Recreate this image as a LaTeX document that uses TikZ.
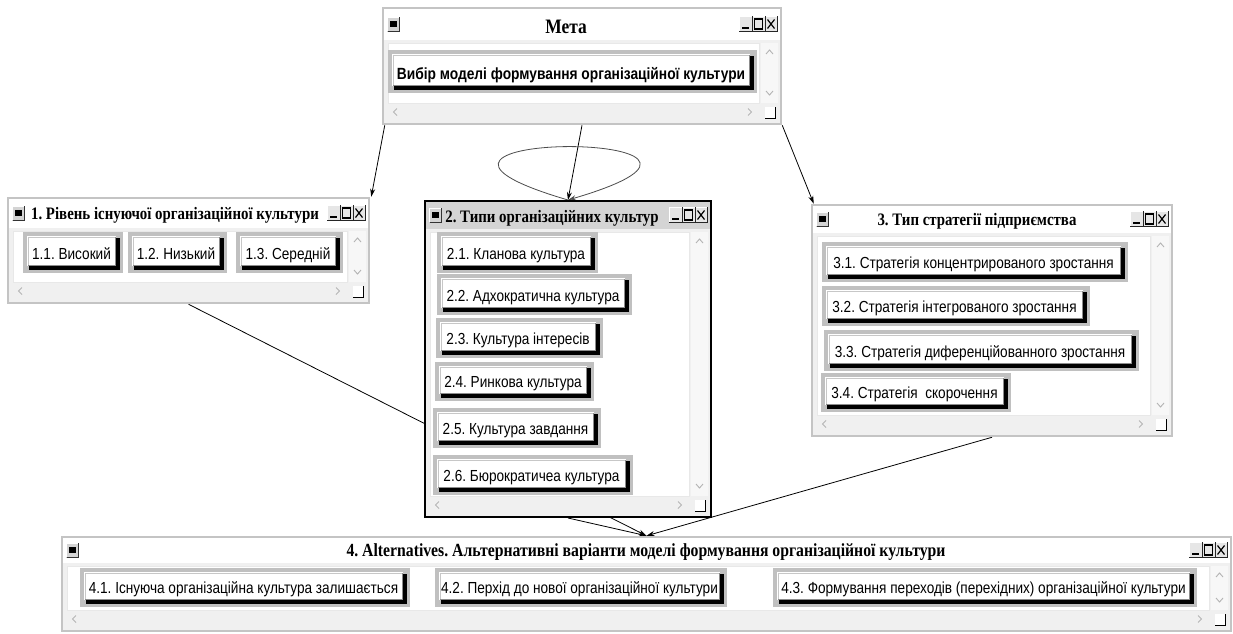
\documentclass[tikz,border=0pt]{standalone}
\usepackage{fontspec}
\setmainfont{Liberation Serif}[FakeStretch=0.85]
\newfontfamily\arialf{Liberation Sans}[FakeStretch=0.85]
\usetikzlibrary{arrows.meta}
\definecolor{wingray}{HTML}{C4C4C4}
\definecolor{bodygray}{HTML}{F0F0F0}
\definecolor{btngray}{HTML}{C0C0C0}
\definecolor{chev}{HTML}{B4B4B4}
\definecolor{activebar}{HTML}{D4D4D4}
\definecolor{ctlgray}{HTML}{E6E6E6}
\definecolor{framegray}{HTML}{E8E8E8}
\pgfdeclarelayer{paper}
\pgfdeclarelayer{bg}
\pgfsetlayers{paper,bg,main}
\tikzset{
  winbox/.style={rectangle, inner sep=0pt, draw=wingray, line width=2.5pt, fill=bodygray},
  activewin/.style={draw=black, line width=2pt},
  btntext/.style={font=\arialf\fontsize{16}{16}\selectfont, inner sep=0pt, anchor=base},
  wintitle/.style={font=\bfseries\fontsize{17.5}{17.5}\selectfont, inner sep=0pt, anchor=base},
  conn/.style={line width=0.8pt, -{Stealth[length=8pt,width=5pt]}},
  chevron/.style={draw=chev, line width=0.9pt},
}
% #1 style, #2 name, #3 x1, #4 y1, #5 x2, #6 y2, #7 title fill, #8 title height
\newcommand{\mywin}[8]{%
  \node[winbox,#1,minimum width={#5-#3},minimum height={#6-#4}] (#2) at ({(#3+#5)/2},{(#4+#6)/2}) {};
  \fill[#7] (#3+1.3,#4+1.3) rectangle (#5-1.3,#4+#8);
  \fill[white] (#3+5,#4+#8+3) rectangle (#5-22,#6-21);
  \draw[framegray, line width=0.8pt] (#3+5,#4+#8+3) rectangle (#5-22,#6-21);
  \fill[white!97!black] (#5-20,#4+#8+3) rectangle (#5-3,#6-21);
  \draw[chevron] (#5-15,#4+#8+14) -- (#5-11.5,#4+#8+10) -- (#5-8,#4+#8+14);
  \draw[chevron] (#5-15,#6-33) -- (#5-11.5,#6-29) -- (#5-8,#6-33);
  \draw[chevron] (#3+14,#6-15.5) -- (#3+10.5,#6-12) -- (#3+14,#6-8.5);
  \draw[chevron] (#5-33,#6-15.5) -- (#5-29.5,#6-12) -- (#5-33,#6-8.5);
  % resize grip
  \fill[white] (#5-16,#6-17) rectangle (#5-5,#6-5);
  \draw[black, line width=1.3pt] (#5-16,#6-5.6) -- (#5-5.6,#6-5.6) -- (#5-5.6,#6-17);
  % left icon
  \fill[activebar] (#3+4,{#4+#8/2-7.5}) rectangle (#3+17,{#4+#8/2+7.5});
  \draw[white, line width=0.8pt] (#3+4.4,{#4+#8/2+7.1}) -- (#3+4.4,{#4+#8/2-7.1}) -- (#3+16.6,{#4+#8/2-7.1});
  \draw[black!80, line width=1pt] (#3+4.5,{#4+#8/2+7}) -- (#3+16.5,{#4+#8/2+7}) -- (#3+16.5,{#4+#8/2-7.5});
  \fill[black] (#3+7.3,{#4+#8/2-3.5}) rectangle (#3+13.7,{#4+#8/2+3});
  % controls
  \fill[ctlgray] (#5-42,{#4+#8/2-8}) rectangle (#5-3,{#4+#8/2+8});
  \draw[white, line width=0.8pt] (#5-41.6,{#4+#8/2+7.5}) -- (#5-41.6,{#4+#8/2-7.6}) -- (#5-3.5,{#4+#8/2-7.6});
  \draw[black!85, line width=1pt] (#5-42,{#4+#8/2+7.5}) -- (#5-3.5,{#4+#8/2+7.5}) -- (#5-3.5,{#4+#8/2-8});
  \draw[black!85, line width=1pt] (#5-29,{#4+#8/2-8}) -- (#5-29,{#4+#8/2+8});
  \draw[black!85, line width=1pt] (#5-16,{#4+#8/2-8}) -- (#5-16,{#4+#8/2+8});
  \draw[black, line width=1.8pt] (#5-39,{#4+#8/2+4.2}) -- (#5-32.5,{#4+#8/2+4.2});
  \draw[black, line width=1.1pt] (#5-26.5,{#4+#8/2-5}) rectangle (#5-18.5,{#4+#8/2+5});
  \draw[black, line width=1.2pt] (#5-13.5,{#4+#8/2-4.5}) -- (#5-6.5,{#4+#8/2+4.5});
  \draw[black, line width=1.2pt] (#5-13.5,{#4+#8/2+4.5}) -- (#5-6.5,{#4+#8/2-4.5});
}
% #1 text style, #2 name, #3 x1, #4 y1, #5 x2, #6 y2, #7 text
\newcommand{\mybtn}[7][]{%
  \fill[btngray] (#3,#4) rectangle (#5,#6);
  \fill[black] (#3+6,#4+6) rectangle (#5-3,#6-3);
  \fill[white] (#3+4,#4+4) rectangle (#5-7,#6-7);
  \draw[black!22, line width=0.8pt] (#3+5.5,#6-8) -- (#3+5.5,#4+5.5) -- (#5-8,#4+5.5);
  \draw[black!45, line width=0.8pt] (#3+5,#6-7.4) -- (#5-7.4,#6-7.4) -- (#5-7.4,#4+5);
  \node[btntext,#1] (#2) at ({(#3+#5)/2-1.5},#6-14) {#7};
}
\begin{document}
\frenchspacing
\begin{tikzpicture}[x=1pt,y=-1pt]
\begin{pgfonlayer}{paper}
\fill[white] (0,0) rectangle (1233,633);
\end{pgfonlayer}
\useasboundingbox (0,0) rectangle (1233,633);

% Meta
\mywin{}{meta}{383}{8}{781}{124}{white}{32}
\node[wintitle, font=\bfseries\fontsize{20.5}{20.5}\selectfont] (tmeta) at (566,33) {Мета};
\mybtn[font=\arialf\bfseries\fontsize{16.2}{16.2}\selectfont]{bmeta}{388}{50}{757}{93}{Вибір моделі формування організаційної культури}

% Window 1
\mywin{}{w1}{8}{198}{369}{303}{white}{30}
\node[wintitle] (t1) at (175,219) {1. Рівень існуючої організаційної культури};
\mybtn{b11}{23}{232}{123}{273}{1.1. Високий}
\mybtn{b12}{128}{232}{227}{273}{1.2. Низький}
\mybtn{b13}{236}{232}{343}{273}{1.3. Середній}

% Window 3
\mywin{}{w3}{812}{205}{1172}{436}{white}{28}
\node[wintitle] (t3) at (977,225) {3. Тип стратегії підприємства};
\mybtn{b31}{822}{242}{1128}{282}{3.1. Стратегія концентрированого зростання}
\mybtn{b32}{822}{286}{1090}{326}{3.2. Стратегія інтегрованого зростання}
\mybtn{b33}{824}{330}{1139}{371}{3.3. Стратегія диференційованного зростання}
\mybtn{b34}{821}{373}{1011}{412}{3.4. Стратегія\ \ скорочення}

% Window 4
\mywin{}{w4}{62}{537}{1231}{631}{white}{26}
\node[wintitle, font=\bfseries\fontsize{18.5}{18.5}\selectfont] (t4) at (646,556) {4. Alternatives. Альтернативні варіанти моделі формування організаційної культури};
\mybtn{b41}{80}{568}{410}{607}{4.1. Існуюча організаційна культура залишається}
\mybtn{b42}{435}{568}{727}{607}{4.2. Перхід до нової організаційної культури}
\mybtn{b43}{773}{568}{1197}{607}{4.3. Формування переходів (перехідних) організаційної культури}

% Window 2 (active)
\mywin{activewin}{w2}{425}{201}{711}{517}{activebar}{28}
\node[wintitle] (t2) at (552,222) {2. Типи організаційних культур};
\mybtn{b21}{437}{232}{598}{273}{2.1. Кланова культура}
\mybtn{b22}{437}{274}{632}{315}{2.2. Адхократична культура}
\mybtn{b23}{436}{318}{603}{358}{2.3. Культура інтересів}
\mybtn{b24}{435}{362}{594}{401}{2.4. Ринкова культура}
\mybtn{b25}{433}{408}{601}{448}{2.5. Культура завдання}
\mybtn{b26}{433}{455}{633}{495}{2.6. Бюрократичеа культура}

% connectors
\begin{pgfonlayer}{bg}
\draw[conn] ([xshift=3pt]meta.south west) -- ([xshift=1pt]w1.north east);
\draw[conn] (meta.south) -- (w2.north);
\draw[conn] (meta.south east) -- ([xshift=3pt]w3.north west);
\draw[conn, draw=black!70] (w2.north) .. controls +(-242,-71) and +(242,-71) .. (w2.north);
\draw[conn] (w1.south) -- (w4.north);
\draw[conn] (w2.south) -- (w4.north);
\draw[conn] (w3.south) -- (w4.north);
\end{pgfonlayer}
\end{tikzpicture}
\end{document}
